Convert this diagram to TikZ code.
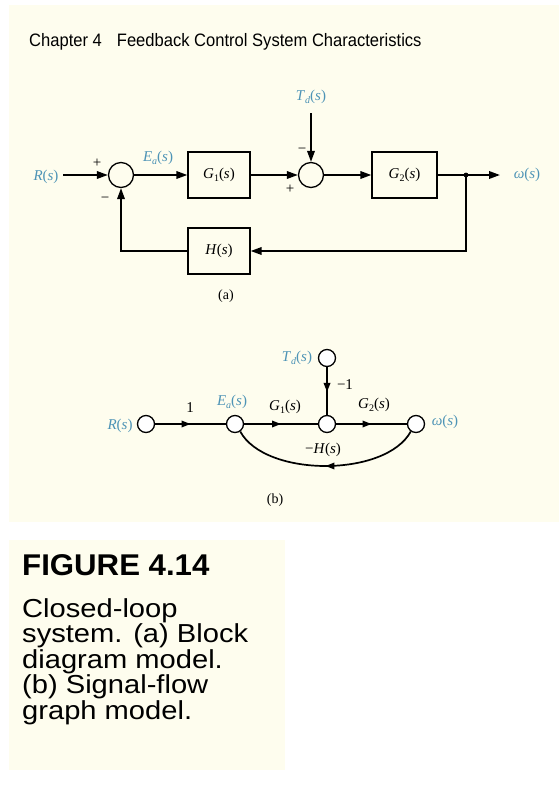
\documentclass[tikz,border=0pt]{standalone}
\usepackage{fontspec}
\setmainfont{Liberation Serif}
\newfontfamily\hsans[FakeStretch=0.92]{Liberation Sans}
\newfontfamily\csans[FakeStretch=1.12]{Liberation Sans}
\newfontfamily\fsans[FakeStretch=1.04]{Liberation Sans}
\usetikzlibrary{arrows.meta,decorations.markings}
\definecolor{cream}{RGB}{254,253,238}
\definecolor{lblue}{RGB}{78,148,182}
\newcommand\vi[1]{\textit{#1}}
\newcommand\sbs[1]{\raisebox{-0.4ex}{\fontsize{10}{10}\selectfont #1}}
\begin{document}
\begin{tikzpicture}[x=1pt,y=-1pt,
  every node/.style={inner sep=0pt, font=\fontsize{15}{18}\selectfont},
  blk/.style={draw, line width=1.3pt, minimum height=46pt},
  sumj/.style={draw, circle, line width=1.3pt, minimum size=25pt},
  sig/.style={line width=1.9pt, -{Triangle[length=11pt,width=7.5pt]}},
  wire/.style={line width=1.9pt},
  sfn/.style={draw, circle, line width=1.3pt, minimum size=17pt, fill=white},
  br/.style={line width=1.7pt},
  midarrow/.style={postaction={decorate}, decoration={markings, mark=at position #1 with {\arrow{Triangle[length=9pt,width=6.5pt]}}}},
  bl/.style={text=lblue},
  sign/.style={font=\fontsize{15}{15}\selectfont},
  sub/.style={font=\fontsize{14}{16}\selectfont},
  hd/.style={anchor=base west, font=\hsans\fontsize{18}{20}\selectfont},
  capt/.style={anchor=base west, font=\csans\fontsize{26}{26}\selectfont}
]
\useasboundingbox (0,0) rectangle (559,804);
\fill[white] (0,0) rectangle (559,804);
\fill[cream] (9,5) rectangle (559,522);
\fill[cream] (9,540) rectangle (285,770);

% header
\node[hd] (ch) at (29,46) {Chapter 4\hspace{15pt}Feedback Control System Characteristics};

% (a) block diagram
\node[sumj] (s1) at (121,175) {};
\node[blk, minimum width=62pt] (g1) at (219,175) {\vi{G}\sbs{1}(\vi{s})};
\node[sumj] (s2) at (311,175) {};
\node[blk, minimum width=65pt] (g2) at (404.5,175) {\vi{G}\sbs{2}(\vi{s})};
\node[blk, minimum width=62pt] (h) at (219,251) {\vi{H}(\vi{s})};
\node[bl] (r) at (46,177) {\vi{R}(\vi{s})};
\node[bl] (w) at (527,175) {\vi{ω}(\vi{s})};
\node[bl] (ea) at (158,158) {\vi{E}\sbs{\vi{a}}(\vi{s})};
\node[bl] (td) at (311,97) {\vi{T}\sbs{\vi{d}}(\vi{s})};
\coordinate (bp) at (466,175);
\coordinate (wend) at (500,175);
\coordinate (tdtop) at (311,113);
\coordinate (rst) at (63,175);

\draw[sig] (rst) -- (s1);
\draw[sig] (s1) -- (g1);
\draw[sig] (g1) -- (s2);
\draw[sig] (s2) -- (g2);
\draw[wire] (g2) -- (bp);
\draw[sig] (bp) -- (wend);
\draw[sig] (tdtop) -- (s2);
\draw[sig] (bp) |- (h);
\draw[sig] (h) -| (s1);
\fill (bp) circle (2.4pt);

\node[sign] (p1) at (97,163) {+};
\node[sign] (m1) at (105,200) {−};
\node[sign] (m2) at (302,151) {−};
\node[sign] (p2) at (290,189) {+};
\node[sub] (la) at (226,296) {(a)};

% (b) signal-flow graph
\node[sfn] (rn) at (146,424) {};
\node[sfn] (en) at (235,424) {};
\node[sfn] (mn) at (327,424) {};
\node[sfn] (wn) at (416,424) {};
\node[sfn] (tn) at (327,358) {};
\draw[br, midarrow=0.5] (rn) -- (en);
\draw[br, midarrow=0.5] (en) -- (mn);
\draw[br, midarrow=0.5] (mn) -- (wn);
\draw[br, midarrow=0.52] (tn) -- (mn);
\draw[br, midarrow=0.5] (wn.-125) .. controls +(-25,46) and +(25,46) .. (en.-55);

\node[bl] (rl) at (120,426) {\vi{R}(\vi{s})};
\node[bl] (el) at (232,402) {\vi{E}\sbs{\vi{a}}(\vi{s})};
\node (one) at (190,408) {1};
\node (g1l) at (285,407) {\vi{G}\sbs{1}(\vi{s})};
\node (g2l) at (374,405) {\vi{G}\sbs{2}(\vi{s})};
\node (m1l) at (345,385) {−1};
\node[bl] (tdl) at (297,358) {\vi{T}\sbs{\vi{d}}(\vi{s})};
\node[bl] (wl) at (445,422) {\vi{ω}(\vi{s})};
\node (hl) at (323,450) {−\vi{H}(\vi{s})};
\node[sub] (lb) at (275,500) {(b)};

% caption
\node[anchor=base west, font=\fsans\bfseries\fontsize{30}{30}\selectfont] (fig) at (22,575) {FIGURE 4.14};
\node[capt] (c1) at (22,617) {Closed-loop};
\node[capt] (c2) at (22,642.5) {system. (a) Block};
\node[capt] (c3) at (22,668) {diagram model.};
\node[capt] (c4) at (22,693.5) {(b) Signal-flow};
\node[capt] (c5) at (22,719) {graph model.};
\end{tikzpicture}
\end{document}
